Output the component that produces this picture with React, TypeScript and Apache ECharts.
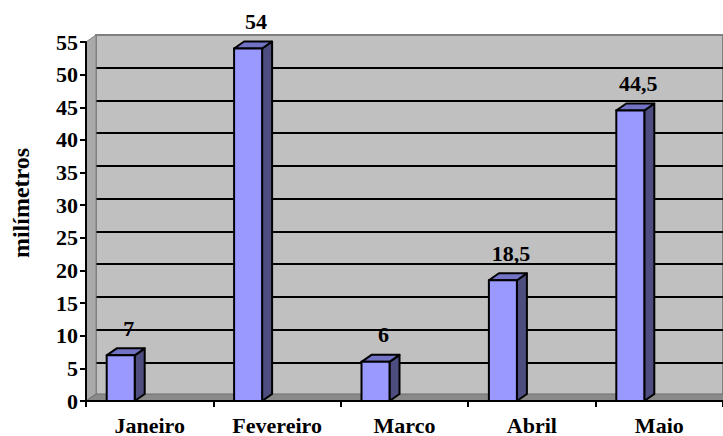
import React, { useEffect, useRef } from "react";
import * as echarts from "echarts";

const categories = ["Janeiro", "Fevereiro", "Marco", "Abril", "Maio"];
const values = [7, 54, 6, 18.5, 44.5];
const yMin = 0;
const yMax = 55;
const yInterval = 5;
const axisName = "milímetros";

const DX = 10;
const DY = 7;
const FONT = "'Liberation Serif', 'Times New Roman', serif";
const FS = 22;

export default function App() {
  const ref = useRef<HTMLDivElement>(null);
  useEffect(() => {
    document.body.style.margin = "0";
    const chart = echarts.init(ref.current!, null, { renderer: "svg" });
    const g0 = { left: 86, top: 42, width: 640, height: 360 };
    const barData = categories.map((c, i) => [i, values[i]]);
    const option: any = {
      animation: false,
      grid: [
        { ...g0, show: false },
        {
          left: g0.left + DX,
          top: g0.top - DY,
          width: g0.width,
          height: g0.height,
          show: true,
          backgroundColor: "#c0c0c0",
          borderColor: "#808080",
          borderWidth: 2,
        },
      ],
      xAxis: [
        {
          gridIndex: 0,
          type: "category",
          data: categories,
          z: 10,
          axisLine: { show: true, lineStyle: { color: "#000", width: 2 } },
          axisTick: { show: true, length: 6, lineStyle: { color: "#000", width: 2 } },
          axisLabel: { color: "#000", fontFamily: FONT, fontWeight: "bold", fontSize: FS, margin: 13 },
          splitLine: { show: false },
        },
        { gridIndex: 1, type: "category", data: categories, show: false },
      ],
      yAxis: [
        {
          gridIndex: 0,
          type: "value",
          min: yMin,
          max: yMax,
          interval: yInterval,
          z: 10,
          axisLine: { show: true, lineStyle: { color: "#000", width: 2 } },
          axisTick: { show: true, length: 6, lineStyle: { color: "#000", width: 2 } },
          axisLabel: { color: "#000", fontFamily: FONT, fontWeight: "bold", fontSize: FS, margin: 8 },
          splitLine: { show: false },
        },
        {
          gridIndex: 1,
          type: "value",
          min: yMin,
          max: yMax,
          interval: yInterval,
          axisLine: { show: false },
          axisTick: { show: false },
          axisLabel: { show: false },
          splitLine: { show: true, showMinLine: false, showMaxLine: false, lineStyle: { color: "#000", width: 2 } },
        },
      ],
      graphic: [
        {
          type: "text",
          x: 21,
          y: 203,
          rotation: Math.PI / 2,
          style: {
            text: axisName,
            font: `bold 24px ${FONT}`,
            fill: "#000",
            align: "center",
            verticalAlign: "middle",
          },
        },
      ],
      series: [
        {
          type: "custom",
          xAxisIndex: 0,
          yAxisIndex: 0,
          z: 1,
          silent: true,
          data: [[0, 0]],
          renderItem: (params: any) => {
            const cs = params.coordSys;
            const x = cs.x, y = cs.y, w = cs.width, h = cs.height;
            return {
              type: "group",
              children: [
                {
                  type: "polygon",
                  shape: { points: [[x, y], [x + DX, y - DY], [x + DX, y + h - DY], [x, y + h]] },
                  style: { fill: "#a9a9a9", stroke: "#808080", lineWidth: 1 },
                },
                {
                  type: "polygon",
                  shape: { points: [[x, y + h], [x + DX, y + h - DY], [x + w + DX, y + h - DY], [x + w, y + h]] },
                  style: { fill: "#8a8a8a", stroke: "#6f6f6f", lineWidth: 1 },
                },
              ],
            };
          },
        },
        {
          type: "custom",
          xAxisIndex: 0,
          yAxisIndex: 0,
          z: 5,
          data: barData,
          encode: { x: 0, y: 1 },
          renderItem: (params: any, api: any) => {
            const i = api.value(0);
            const v = api.value(1);
            const top = api.coord([i, v]);
            const base = api.coord([i, 0]);
            const bw = 28;
            const xl = top[0] - 29 - bw / 2;
            const xr = xl + bw;
            const yT = top[1];
            const yB = base[1];
            const label = String(v).replace(".", ",");
            return {
              type: "group",
              children: [
                {
                  type: "polygon",
                  shape: { points: [[xr, yT], [xr + DX, yT - DY], [xr + DX, yB - DY], [xr, yB]] },
                  style: { fill: "#4d4d80", stroke: "#000", lineWidth: 2, lineJoin: "round" },
                },
                {
                  type: "polygon",
                  shape: { points: [[xl, yT], [xr, yT], [xr + DX, yT - DY], [xl + DX, yT - DY]] },
                  style: { fill: "#7373c6", stroke: "#000", lineWidth: 2, lineJoin: "round" },
                },
                {
                  type: "rect",
                  shape: { x: xl, y: yT, width: bw, height: yB - yT },
                  style: { fill: "#9999ff", stroke: "#000", lineWidth: 2 },
                },
                {
                  type: "text",
                  style: {
                    text: label,
                    x: (xl + xr) / 2 + 8,
                    y: yT - 16,
                    font: `bold ${FS}px ${FONT}`,
                    fill: "#000",
                    align: "center",
                    verticalAlign: "bottom",
                  },
                },
              ],
            };
          },
        },
      ],
    };
    chart.setOption(option);
    return () => chart.dispose();
  }, []);
  return <div ref={ref} style={{ width: 723, height: 436 }} />;
}
